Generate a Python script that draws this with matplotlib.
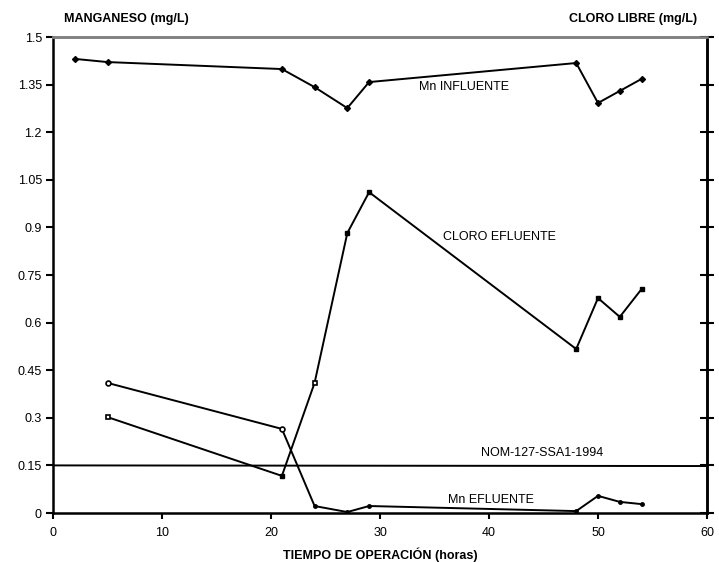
import matplotlib
matplotlib.use('Agg')
import matplotlib.pyplot as plt
from matplotlib.ticker import FuncFormatter, MultipleLocator

plt.rcParams['font.family'] = ['Liberation Sans', 'DejaVu Sans']

# tiempo de operacion (horas)
t_inf = [2, 5, 21, 24, 27, 29, 48, 50, 52, 54]
mn_influente = [1.431, 1.421, 1.399, 1.342, 1.276, 1.358, 1.418, 1.292, 1.330, 1.368]

t_efl = [5, 21, 24, 27, 29, 48, 50, 52, 54]
mn_efluente = [0.41, 0.265, 0.022, 0.003, 0.022, 0.006, 0.054, 0.035, 0.028]
cloro_efluente = [0.403, 0.156, 0.547, 1.176, 1.348, 0.689, 0.903, 0.824, 0.941]

t_nom = [0, 60]
nom_127 = [0.15, 0.148]

mn_open = [0, 1]      # puntos con circulo abierto
cloro_open = [0, 2]   # puntos con cuadro abierto

fig = plt.figure(figsize=(7.19, 5.62), dpi=100)
ax = fig.add_axes([53 / 719, 1 - 513 / 562, 654 / 719, 476 / 562])
ax2 = ax.twinx()

lw = 1.4
ax.plot(t_inf, mn_influente, color='black', lw=lw, marker='D', ms=3)
ax.plot(t_nom, nom_127, color='black', lw=lw)

ax.plot(t_efl, mn_efluente, color='black', lw=lw)
filled = [i for i in range(len(t_efl)) if i not in mn_open]
ax.plot([t_efl[i] for i in filled], [mn_efluente[i] for i in filled], ls='none',
        marker='o', ms=2.5, color='black')
ax.plot([t_efl[i] for i in mn_open], [mn_efluente[i] for i in mn_open], ls='none',
        marker='o', ms=3.5, mfc='white', mec='black', mew=1.2)

ax2.plot(t_efl, cloro_efluente, color='black', lw=lw)
filled = [i for i in range(len(t_efl)) if i not in cloro_open]
ax2.plot([t_efl[i] for i in filled], [cloro_efluente[i] for i in filled], ls='none',
         marker='s', ms=2.5, color='black')
ax2.plot([t_efl[i] for i in cloro_open], [cloro_efluente[i] for i in cloro_open], ls='none',
         marker='s', ms=3.5, mfc='white', mec='black', mew=1.2)

ax.set_xlim(0, 60)
ax.set_ylim(0, 1.5)
ax2.set_ylim(0, 2)
ax.xaxis.set_major_locator(MultipleLocator(10))
ax.yaxis.set_major_locator(MultipleLocator(0.15))
ax2.yaxis.set_major_locator(MultipleLocator(0.2))
fmt = FuncFormatter(lambda v, p: '%g' % round(v, 2))
ax.yaxis.set_major_formatter(fmt)
ax2.yaxis.set_major_formatter(fmt)

for a in (ax, ax2):
    for s in a.spines.values():
        s.set_linewidth(1.8)
        s.set_color('black')
    a.spines['top'].set_color('#808080')
ax2.spines['left'].set_visible(False)
ax2.spines['bottom'].set_visible(False)

ax.tick_params(axis='y', direction='out', length=5, width=1.5, pad=3, labelsize=9)
ax.tick_params(axis='x', direction='out', length=4, width=1.5, pad=6, labelsize=9)
ax2.tick_params(axis='y', direction='inout', length=10, width=1.5, pad=3, labelsize=9)

ax.text(37.7, 1.342, 'Mn INFLUENTE', ha='center', va='center', fontsize=9)
ax.text(41.0, 0.870, 'CLORO EFLUENTE', ha='center', va='center', fontsize=9)
ax.text(44.9, 0.189, 'NOM-127-SSA1-1994', ha='center', va='center', fontsize=9)
ax.text(40.2, 0.041, 'Mn EFLUENTE', ha='center', va='center', fontsize=9)

fig.text(64 / 719, 1 - 19 / 562, 'MANGANESO (mg/L)', ha='left', va='center',
         fontsize=9, fontweight='bold')
fig.text(697 / 719, 1 - 19 / 562, 'CLORO LIBRE (mg/L)', ha='right', va='center',
         fontsize=9, fontweight='bold')
fig.text(380 / 719, 1 - 555 / 562, 'TIEMPO DE OPERACIÓN (horas)', ha='center',
         va='center', fontsize=9, fontweight='bold')

fig.savefig('out.png', dpi=100)
